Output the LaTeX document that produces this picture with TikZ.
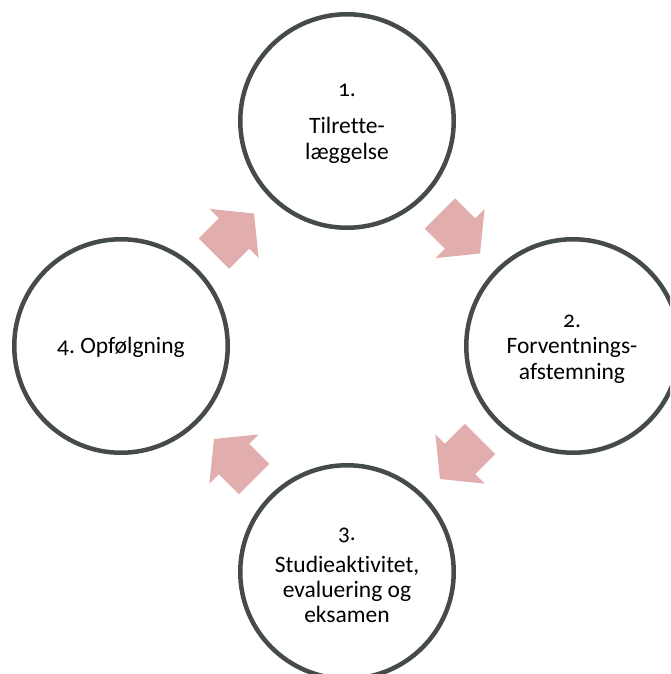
\documentclass[tikz,border=0pt]{standalone}
\usepackage{fontspec}
\setmainfont{Carlito}[Numbers=OldStyle, Ligatures=NoCommon]
\usetikzlibrary{calc}
\definecolor{ringc}{HTML}{454B4B}
\definecolor{arw}{HTML}{E2ADAD}
\begin{document}
\begin{tikzpicture}[x=1pt,y=-1pt,
  ring/.style={circle, draw=ringc, line width=4.5pt, minimum size=213.5pt, inner sep=0pt},
  lbl/.style={anchor=base, font=\fontsize{23.5}{26}\selectfont, text=black, inner sep=0pt},
  blockarrow/.style={fill=arw, draw=none}]
\useasboundingbox (0,0) rectangle (670,674);
\clip (0,0) rectangle (670,674);
% circles
\node[ring] (c1) at (347,121) {};
\node[ring] (c2) at (573,346) {};
\node[ring] (c3) at (347,572) {};
\node[ring] (c4) at (121,346) {};
% labels
\node[lbl] (t1a) at (347,97) {1.};
\node[lbl] (t1b) at (347,133) {Tilrette-};
\node[lbl] (t1c) at (347,159) {læggelse};
\node[lbl] (t2a) at (572,327) {2.};
\node[lbl] (t2b) at (572,353) {Forventnings-};
\node[lbl] (t2c) at (572,379) {afstemning};
\node[lbl] (t3a) at (347,540) {3.};
\node[lbl] (t3b) at (347,572) {Studieaktivitet,};
\node[lbl] (t3c) at (347,597) {evaluering og};
\node[lbl] (t3d) at (347,622) {eksamen};
\node[lbl] (t4a) at (121,353) {4.~Opfølgning};
% arrow positions
\coordinate (m1) at ($(c4)!0.5!(c1)$);
\coordinate (m2) at ($(c1)!0.5!(c2)$);
\coordinate (m3) at ($(c2)!0.5!(c3)$);
\coordinate (m4) at ($(c3)!0.5!(c4)$);
\foreach \m/\a in {m1/45, m2/-45, m3/-135, m4/135}{
  \fill[blockarrow, shift={(\m)}, rotate=\a]
    (-28.3,-21.5) -- (0,-21.5) -- (0,-34.8) -- (28.3,0) -- (0,34.8) -- (0,21.5) -- (-28.3,21.5) -- cycle;
}
\end{tikzpicture}
\end{document}
